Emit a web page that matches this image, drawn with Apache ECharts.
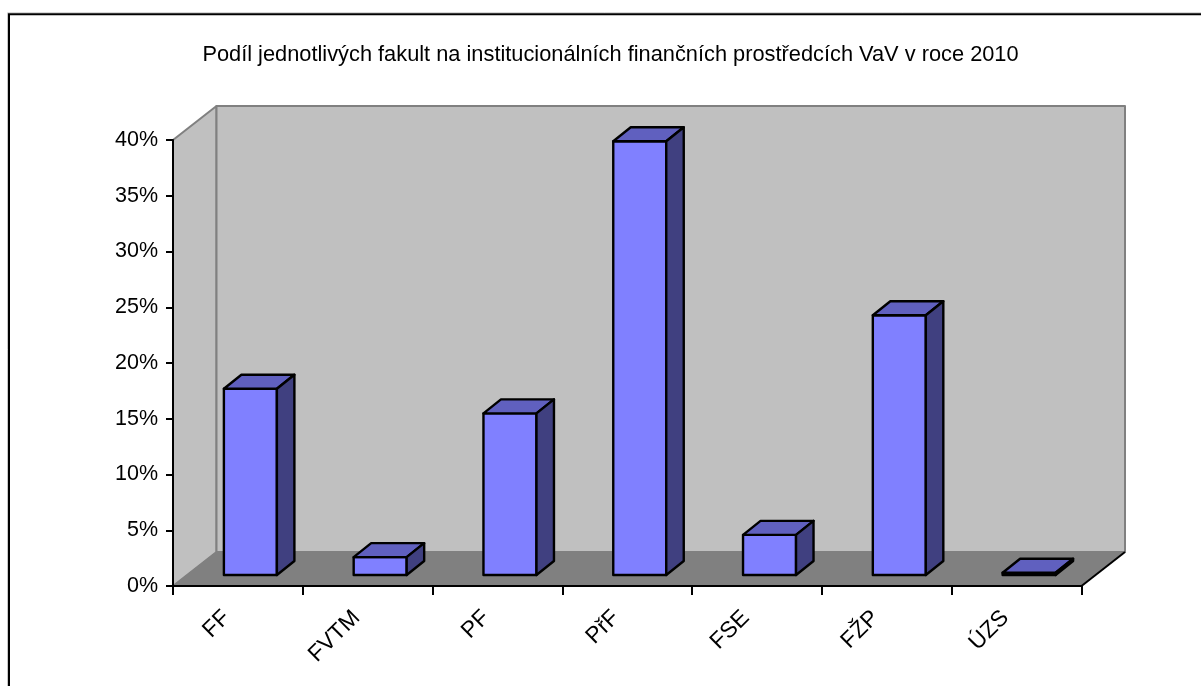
<!DOCTYPE html>
<html>
<head>
<meta charset="utf-8">
<style>
  html, body { margin: 0; padding: 0; background: #fff; }
  #chart { width: 1201px; height: 686px; }
</style>
<script src="https://cdn.jsdelivr.net/npm/echarts@6/dist/echarts.min.js"></script>
</head>
<body>
<div id="chart"></div>
<script>
const titleText = 'Podíl jednotlivých fakult na institucionálních finančních prostředcích VaV v roce 2010'
const categories = ['FF', 'FVTM', 'PF', 'PřF', 'FSE', 'FŽP', 'ÚZS']
const shares = [16.7, 1.6, 14.5, 38.9, 3.6, 23.3, 0.2]

const font = '"Liberation Sans", Arial, sans-serif'

// fake 3d: how far the back wall sits from the front plane, in px
const wallDx = 43.5
const wallDy = -34
// bars stand in the middle of the floor
const barOffsetX = 12.5
const barOffsetY = -11
const barDx = 17.5
const barDy = -14
const barWidth = 53

function poly(points, fill, stroke, lineWidth) {
  return {
    type: 'polygon',
    shape: { points },
    style: { fill, stroke, lineWidth, lineJoin: 'round' },
  }
}

function renderWalls(params) {
  const { x, y, width, height } = params.coordSys
  const bottom = y + height
  const right = x + width
  return {
    type: 'group',
    children: [
      poly([[x, y], [x + wallDx, y + wallDy], [x + wallDx, bottom + wallDy], [x, bottom]], '#c0c0c0', '#808080', 2),
      poly([[x + wallDx, y + wallDy], [right + wallDx, y + wallDy], [right + wallDx, bottom + wallDy], [x + wallDx, bottom + wallDy]], '#c0c0c0', '#808080', 2),
      poly([[x, bottom], [x + wallDx, bottom + wallDy], [right + wallDx, bottom + wallDy], [right, bottom]], '#808080', '#808080', 1),
      {
        type: 'line',
        shape: { x1: right, y1: bottom, x2: right + wallDx, y2: bottom + wallDy },
        style: { stroke: '#000', lineWidth: 2 },
      },
    ],
  }
}

function renderBar(params, api) {
  const top = api.coord([api.value(0), api.value(1)])
  const base = api.coord([api.value(0), 0])
  const x0 = top[0] + barOffsetX - barWidth / 2
  const x1 = x0 + barWidth
  const y0 = top[1] + barOffsetY
  const y1 = base[1] + barOffsetY
  return {
    type: 'group',
    children: [
      poly([[x0, y0], [x1, y0], [x1, y1], [x0, y1]], '#8080ff', '#000', 2.4),
      poly([[x0, y0], [x0 + barDx, y0 + barDy], [x1 + barDx, y0 + barDy], [x1, y0]], '#6060bf', '#000', 2.4),
      poly([[x1, y0], [x1 + barDx, y0 + barDy], [x1 + barDx, y1 + barDy], [x1, y1]], '#404080', '#000', 2.4),
    ],
  }
}

const chart = echarts.init(document.getElementById('chart'), null, { renderer: 'canvas' })

chart.setOption({
  animation: false,
  backgroundColor: '#fff',
  title: {
    text: titleText,
    left: 605.5,
    top: 39,
    textAlign: 'center',
    textStyle: { fontFamily: font, fontSize: 21.8, fontWeight: 'normal', color: '#000' },
  },
  grid: { left: 173, right: 119.5, top: 140, bottom: 100 },
  xAxis: {
    type: 'category',
    data: categories,
    z: 5,
    axisLine: { lineStyle: { color: '#000', width: 2 } },
    axisTick: { show: true, alignWithLabel: false, length: 9, lineStyle: { color: '#000', width: 2 } },
    axisLabel: {
      rotate: 45,
      interval: 0,
      margin: 17,
      padding: [0, 16, 0, 0],
      fontFamily: font,
      fontSize: 22.8,
      color: '#000',
    },
  },
  yAxis: {
    type: 'value',
    min: 0,
    max: 40,
    interval: 5,
    z: 5,
    axisLine: { show: true, lineStyle: { color: '#000', width: 2 } },
    axisTick: { show: true, length: 7, lineStyle: { color: '#000', width: 2 } },
    splitLine: { show: false },
    axisLabel: {
      formatter: '{value}%',
      margin: 15,
      padding: [5, 0, 0, 0],
      fontFamily: font,
      fontSize: 21.5,
      color: '#000',
    },
  },
  series: [
    {
      name: 'walls',
      type: 'custom',
      renderItem: renderWalls,
      data: [[0, 0]],
      clip: false,
      silent: true,
      z: 1,
    },
    {
      name: 'Podíl',
      type: 'custom',
      renderItem: renderBar,
      data: shares.map((v, i) => [i, v]),
      encode: { x: 0, y: 1 },
      clip: false,
      z: 2,
    },
  ],
  graphic: [
    {
      type: 'polyline',
      shape: { points: [[7.5, 686], [7.5, 12.8], [1201, 12.8]] },
      style: { stroke: '#c8c8c8', lineWidth: 1, fill: null },
      z: 9,
    },
    {
      type: 'polyline',
      shape: { points: [[9, 686], [9, 14.3], [1201, 14.3]] },
      style: { stroke: '#000', lineWidth: 2, fill: null },
      z: 10,
    },
  ],
})

window.addEventListener('resize', () => chart.resize())
</script>
</body>
</html>
